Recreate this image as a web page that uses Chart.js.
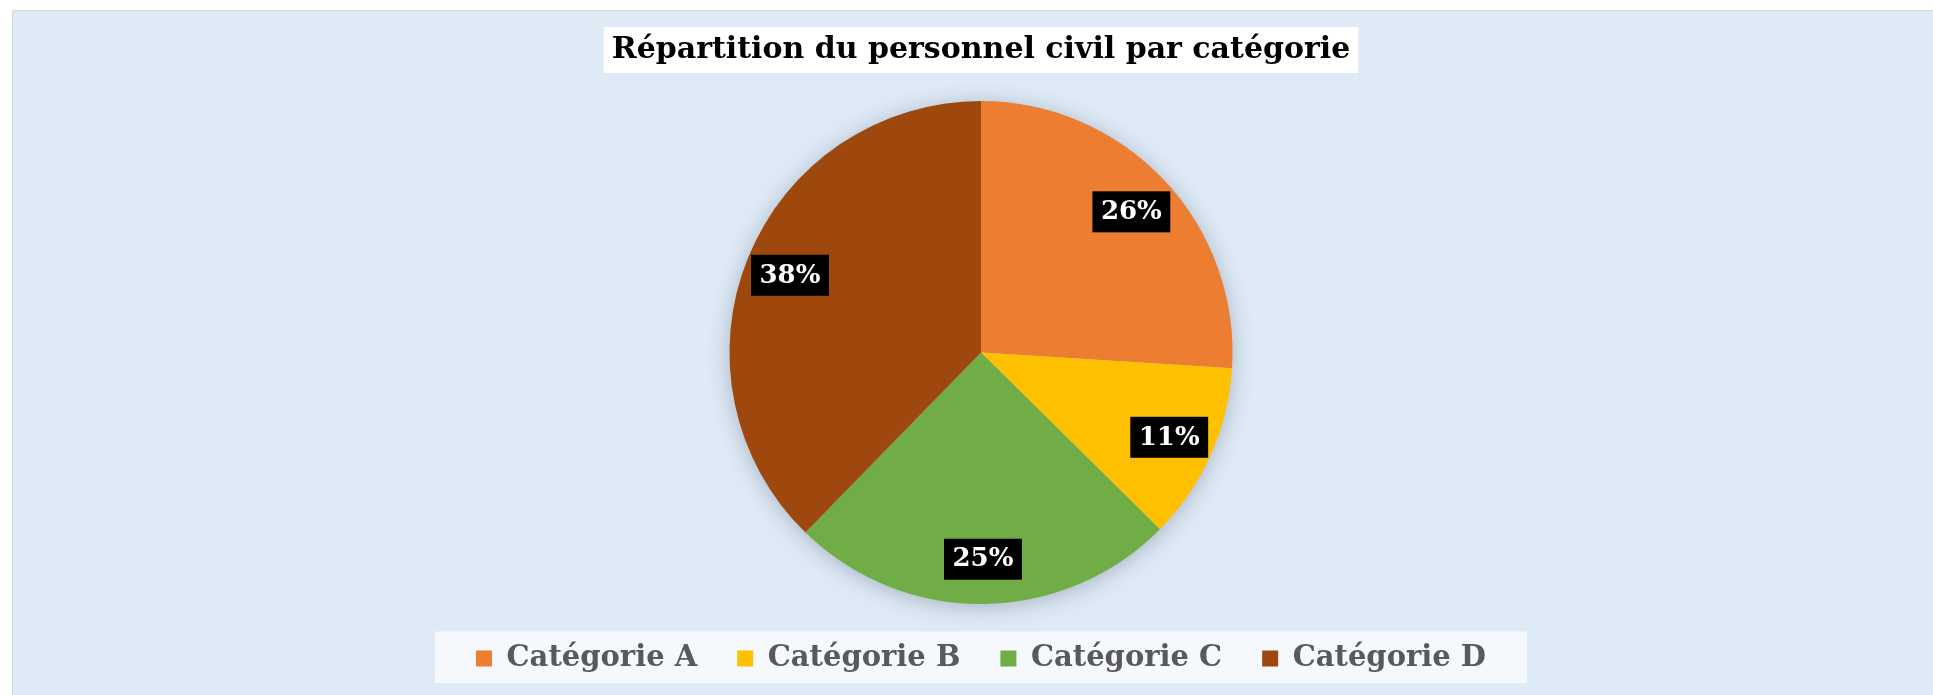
<!DOCTYPE html>
<html>
<head>
<meta charset="utf-8">
<script src="https://cdn.jsdelivr.net/npm/chart.js@4"></script>
<style>
  body { margin: 0; overflow: hidden; background: #fff; }
  #frame {
    position: absolute; left: 12px; top: 10px; width: 2000px; height: 800px;
    border-left: 1px solid #d9d9d9; border-top: 1px solid #d9d9d9;
    background: #deeaf6;
  }
  #chart { position: absolute; left: 0; top: 0; }
</style>
</head>
<body>
<div id="frame"><canvas id="chart" width="1920" height="672"></canvas></div>
<script>
// data
const chartTitle = 'Répartition du personnel civil par catégorie';
const categories = ['Catégorie A', 'Catégorie B', 'Catégorie C', 'Catégorie D'];
const shares = [26.0, 11.4, 24.9, 37.7];
const shareLabels = ['26%', '11%', '25%', '38%'];
const sliceColors = ['#ed7d31', '#ffc000', '#70ad47', '#9e480e'];

const SERIF = '"DejaVu Serif", "Liberation Serif", serif';
const TITLE_SIZE = 30;
const TITLE_PAD_TOP = 21;

// white boxes behind title and legend, soft shadow under the pie
const decor = {
  id: 'decor',
  beforeDraw(chart) {
    const ctx = chart.ctx;
    ctx.save();
    const t = chart.titleBlock;
    ctx.font = 'bold ' + TITLE_SIZE + 'px ' + SERIF;
    const tw = ctx.measureText(chartTitle).width;
    const tcx = (t.left + t.right) / 2;
    const tcy = t.top + TITLE_PAD_TOP + TITLE_SIZE * 1.2 / 2;
    ctx.fillStyle = '#ffffff';
    ctx.fillRect(tcx - tw / 2 - 8, tcy - 23, tw + 16, 46);

    const hb = chart.legend.legendHitBoxes;
    if (hb.length) {
      const minX = Math.min(...hb.map(h => h.left));
      const maxX = Math.max(...hb.map(h => h.left + h.width));
      const cy = hb[0].top + hb[0].height / 2;
      const cx = (minX + maxX) / 2;
      ctx.fillStyle = '#f5f8fc';
      ctx.fillRect(cx - 546, cy - 27, 1092, 54);
    }
    ctx.restore();
  },
  beforeDatasetsDraw(chart) {
    const arc = chart.getDatasetMeta(0).data[0];
    if (!arc) return;
    const ctx = chart.ctx;
    ctx.save();
    ctx.shadowColor = 'rgba(60, 70, 90, 0.35)';
    ctx.shadowBlur = 22;
    ctx.shadowOffsetY = 3;
    ctx.fillStyle = '#c0c8d0';
    ctx.beginPath();
    ctx.arc(arc.x, arc.y, arc.outerRadius - 1, 0, Math.PI * 2);
    ctx.fill();
    ctx.restore();
  },
  afterDatasetsDraw(chart) {
    const ctx = chart.ctx;
    ctx.save();
    ctx.font = 'bold 26px ' + SERIF;
    ctx.textAlign = 'center';
    ctx.textBaseline = 'middle';
    chart.getDatasetMeta(0).data.forEach((arc, i) => {
      const mid = (arc.startAngle + arc.endAngle) / 2;
      const r = arc.outerRadius * 0.82;
      const x = arc.x + Math.cos(mid) * r;
      const y = arc.y + Math.sin(mid) * r;
      const w = ctx.measureText(shareLabels[i]).width + 17;
      ctx.fillStyle = '#000';
      ctx.fillRect(x - w / 2, y - 20, w, 41);
      ctx.fillStyle = '#fff';
      ctx.fillText(shareLabels[i], x, y + 1);
    });
    ctx.restore();
  }
};

new Chart(document.getElementById('chart'), {
  type: 'pie',
  data: {
    labels: categories,
    datasets: [{
      data: shares,
      backgroundColor: sliceColors,
      borderWidth: 0
    }]
  },
  options: {
    responsive: false,
    animation: false,
    layout: { padding: { left: 16 } },
    plugins: {
      title: {
        display: true,
        text: chartTitle,
        color: '#000',
        font: { family: SERIF, size: TITLE_SIZE, weight: 'bold' },
        padding: { top: TITLE_PAD_TOP, bottom: 33 }
      },
      legend: {
        position: 'bottom',
        labels: {
          color: '#595959',
          font: { family: SERIF, size: 29, weight: 'bold' },
          boxWidth: 16,
          boxHeight: 16,
          padding: 40
        }
      },
      tooltip: { enabled: false }
    }
  },
  plugins: [decor]
});
</script>
</body>
</html>
